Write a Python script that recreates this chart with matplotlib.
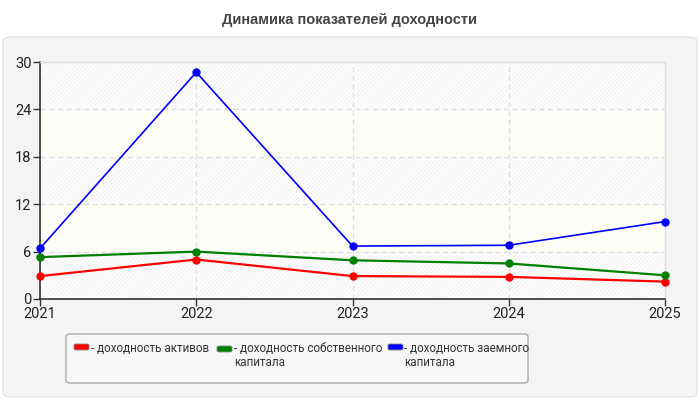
import matplotlib
matplotlib.use("Agg")
import matplotlib.pyplot as plt
from matplotlib.patches import FancyBboxPatch

years = [2021, 2022, 2023, 2024, 2025]
assets = [2.9, 5.0, 2.9, 2.8, 2.2]
equity = [5.3, 6.0, 4.9, 4.5, 3.0]
borrowed = [6.4, 28.7, 6.7, 6.8, 9.8]
series_labels = ["- доходность активов", "- доходность собственного\nкапитала", "- доходность заемного\nкапитала"]
series_colors = ["#ff0000", "#008000", "#0000ff"]
yticks = [0, 6, 12, 18, 24, 30]
title = "Динамика показателей доходности"

plt.rcParams['font.family'] = ['Roboto', 'Liberation Sans', 'DejaVu Sans']
plt.rcParams['hatch.linewidth'] = 0.5
plt.rcParams['hatch.color'] = '#ececec'

W, H = 700, 400
fig = plt.figure(figsize=(7, 4), dpi=100)
fig.patch.set_facecolor('white')

def fx(px):
    return px / W

def fy(py):
    return 1 - py / H

# outer panel
panel = FancyBboxPatch((fx(3), fy(397)), fx(694), (397 - 37) / H,
                       boxstyle="round,pad=0,rounding_size=0.012",
                       transform=fig.transFigure, facecolor='#f4f4f4',
                       edgecolor='#e4e4e4', linewidth=1, zorder=0)
fig.patches.append(panel)

fig.text(0.5, fy(20), title, ha='center', va='center', fontsize=10.5,
         fontweight='bold', color='#444444', family=['Liberation Sans', 'DejaVu Sans'])

ax = fig.add_axes([fx(40), fy(299), fx(665 - 40), (299 - 62) / H])
ax.set_zorder(2)
ax.set_facecolor('white')
ax.set_xlim(years[0], years[-1])
ax.set_ylim(yticks[0], yticks[-1])

# alternating bands
for i in range(len(yticks) - 1):
    lo, hi = yticks[i], yticks[i + 1]
    if i % 2 == 0:
        ax.axhspan(lo, hi, facecolor='white', edgecolor='#ececec', hatch='////////', linewidth=0, zorder=0)
    else:
        ax.axhspan(lo, hi, facecolor='#fefef8', linewidth=0, zorder=0)

ax.set_yticks(yticks)
ax.set_xticks(years)
ax.set_xticklabels([str(y) for y in years])
ax.grid(True, color='#dddddd', linestyle=(0, (4, 3)), linewidth=0.9, zorder=1)

for vals, col, lw in zip([assets, equity, borrowed], series_colors, [1.6, 1.6, 1.2]):
    ax.plot(years, vals, color=col, linewidth=lw, marker='o', markersize=5, zorder=3,
            clip_on=False)

for s in ['top', 'right']:
    ax.spines[s].set_color('#dddddd')
    ax.spines[s].set_linewidth(1)
for s in ['left', 'bottom']:
    ax.spines[s].set_color('#333333')
    ax.spines[s].set_linewidth(1.2)
ax.tick_params(axis='both', direction='out', length=5, width=1, color='#333333',
               labelsize=10.5, labelcolor='#222222', pad=1)

# legend box
leg = FancyBboxPatch((fx(66), fy(383)), fx(528 - 66), (383 - 334) / H,
                     boxstyle="round,pad=0,rounding_size=0.006",
                     transform=fig.transFigure, facecolor='#f7f7f7',
                     edgecolor='#aaaaaa', linewidth=1, zorder=2)
fig.patches.append(leg)

sw_x = [74, 217, 388]
txt_x = [91, 234, 404]
sw_y = [350, 352, 350]
for sx, tx, syy, col, lab in zip(sw_x, txt_x, sw_y, series_colors, series_labels):
    sw = FancyBboxPatch((fx(sx), fy(syy)), fx(15), 6 / H,
                        boxstyle="round,pad=0,rounding_size=0.003",
                        transform=fig.transFigure, facecolor=col,
                        edgecolor='#888888', linewidth=0.6, zorder=3)
    fig.patches.append(sw)
    fig.text(fx(tx), fy(342), lab, ha='left', va='top', fontsize=8.4,
             color='#333333', linespacing=1.1, zorder=4)

fig.savefig('out.png', dpi=100)
